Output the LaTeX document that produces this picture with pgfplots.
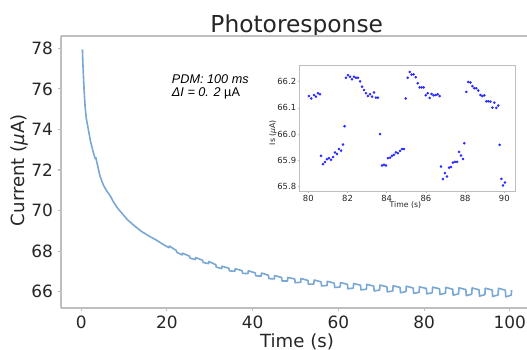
\documentclass[border=0pt]{standalone}
\usepackage{pgfplots}
\pgfplotsset{compat=1.18}
\usepackage{fontspec}
\setmainfont{DejaVu Sans}
\newfontfamily\arial{Liberation Sans}
\definecolor{lineblue}{RGB}{122,168,212}
\definecolor{spinegray}{RGB}{190,190,190}
\definecolor{ticktext}{RGB}{38,38,38}
\definecolor{dotblue}{RGB}{40,40,255}
\begin{document}
\begin{tikzpicture}
\path[use as bounding box] (0pt,0pt) rectangle (395.25pt,261.75pt);
\clip (0pt,0pt) rectangle (395.25pt,261.75pt);
\begin{scope}[x=0.75pt,y=0.75pt]
\node[anchor=base, text=ticktext, inner sep=0pt, font=\fontsize{17.5}{20}\selectfont] at (296.7,316) {Photoresponse};
\end{scope}
\begin{axis}[
 at={(45.75pt,30.75pt)}, anchor=south west, scale only axis, width=354pt, height=204pt,
 xmin=-4.7, xmax=105.4, ymin=65.196, ymax=78.607,
 axis y line*=left,
 xtick={0,20,...,100}, ytick={66,68,...,78},
 tick align=outside, xtick pos=bottom, ytick pos=left,
 major tick length=2.6pt,
 every tick/.style={spinegray, line width=0.8pt},
 axis line style={spinegray, line width=1.2pt},
 tick label style={font=\fontsize{12.7}{14}\selectfont, text=ticktext},
 /pgf/number format/assume math mode=true,
 xlabel={Time (s)}, ylabel={Current ({\itshape μ}A)},
 label style={font=\fontsize{13.6}{15}\selectfont, text=ticktext, inner sep=0pt},
 xlabel style={at={(axis description cs:0.5,-0.0919)}, anchor=north},
 ylabel style={at={(axis description cs:-0.0869,0.507)}, anchor=center},
]
\addplot[lineblue, line width=1.2pt, line join=round] coordinates {
(0.30,77.95)(0.40,77.30)(0.54,76.60)(0.70,75.90)(0.93,75.10)(1.20,74.55)(1.70,73.97)(2.20,73.40)(2.90,72.82)(3.30,72.55)(3.45,72.60)(3.70,72.35)(4.40,71.70)(5.20,71.25)(6.00,70.95)(6.40,70.85)(6.80,70.72)(7.50,70.44)(8.50,70.12)(9.50,69.87)(10.80,69.55)(12.20,69.29)(14.00,68.98)(16.10,68.71)(17.50,68.55)(19.20,68.32)(20.50,68.17)
(20.58,68.250)(22.20,68.032)(22.30,67.941)(23.57,67.810)
(23.65,67.897)(25.27,67.752)(25.37,67.655)(26.64,67.587)
(26.72,67.683)(28.34,67.547)(28.44,67.441)(29.71,67.383)
(29.79,67.489)(31.41,67.329)(31.51,67.212)(32.78,67.139)
(32.86,67.256)(34.48,67.152)(34.58,67.029)(35.85,67.006)
(35.93,67.132)(37.55,67.037)(37.65,66.904)(38.92,66.892)
(39.00,67.028)(40.62,66.926)(40.72,66.782)(41.99,66.768)
(42.07,66.921)(43.69,66.807)(43.79,66.644)(45.06,66.631)
(45.14,66.797)(46.76,66.698)(46.86,66.525)(48.13,66.527)
(48.21,66.703)(49.83,66.624)(49.93,66.442)(51.20,66.463)
(51.28,66.650)(52.90,66.556)(53.00,66.364)(54.27,66.380)
(54.35,66.576)(55.97,66.485)(56.07,66.283)(57.34,66.306)
(57.42,66.512)(59.04,66.419)(59.14,66.207)(60.41,66.232)
(60.49,66.449)(62.11,66.363)(62.21,66.142)(63.48,66.179)
(63.56,66.405)(65.18,66.317)(65.28,66.086)(66.55,66.125)
(66.63,66.361)(68.25,66.277)(68.35,66.036)(69.62,66.081)
(69.70,66.328)(71.32,66.241)(71.42,65.989)(72.69,66.037)
(72.77,66.294)(74.39,66.209)(74.49,65.949)(75.76,66.004)
(75.84,66.270)(77.46,66.183)(77.56,65.913)(78.83,65.970)
(78.91,66.240)(80.53,66.159)(80.63,65.888)(81.90,65.950)
(81.98,66.226)(83.60,66.143)(83.70,65.862)(84.97,65.926)
(85.05,66.213)(86.67,66.120)(86.77,65.830)(88.04,65.893)
(88.12,66.189)(89.74,66.105)(89.84,65.805)(91.11,65.879)
(91.19,66.185)(92.81,66.094)(92.91,65.783)(94.18,65.855)
(94.26,66.172)(95.88,66.082)(95.98,65.762)(97.25,65.842)
(97.33,66.168)(98.95,66.076)(99.05,65.746)(100.32,65.828)
(100.40,66.080)
};
\end{axis}
\begin{scope}[x=0.75pt,y=0.75pt]
\node[anchor=base west, inner sep=0pt, font=\arial\itshape\fontsize{9.5}{11}\selectfont] at (171.7,265.7) {PDM: 100 ms};
\node[anchor=base west, inner sep=0pt, font=\arial\itshape\fontsize{9.5}{11}\selectfont] at (171.7,252.3) {ΔI = 0. 2 {\upshape µA}};
\end{scope}
\begin{axis}[
 at={(224.475pt,117.975pt)}, anchor=south west, scale only axis, width=162.3pt, height=94.3pt,
 xmin=79.54, xmax=90.58, ymin=65.78, ymax=66.26,
 xtick={80,82,...,90}, ytick={65.8,65.9,66.0,66.1,66.2},
 yticklabel style={/pgf/number format/.cd, fixed, fixed zerofill, precision=1},
 tick align=outside, xtick pos=bottom, ytick pos=left,
 major tick length=1.2pt,
 every tick/.style={spinegray, line width=0.5pt},
 axis line style={spinegray, line width=0.8pt},
 axis background/.style={fill=white},
 tick label style={font=\fontsize{6.3}{7}\selectfont, text=ticktext, inner sep=1pt},
 /pgf/number format/assume math mode=true,
 xlabel={Time (s)}, ylabel={Is ({\itshape μ}A)},
 label style={font=\fontsize{5.8}{7}\selectfont, text=ticktext, inner sep=0pt},
 xlabel style={at={(axis description cs:0.49,-0.08)}, anchor=north},
 ylabel style={at={(axis description cs:-0.122,0.47)}, anchor=center},
]
\addplot[only marks, mark=*, mark size=0.75pt, dotblue] coordinates {
(80.03,66.145)(80.15,66.136)(80.29,66.149)(80.39,66.143)(80.49,66.156)(80.59,66.152)
(80.65,65.917)(80.75,65.885)(80.85,65.893)(80.95,65.904)(81.05,65.908)(81.16,65.902)(81.26,65.912)(81.36,65.930)(81.46,65.924)(81.56,65.943)(81.67,65.937)(81.77,65.960)(81.85,66.030)
(81.92,66.215)(82.02,66.225)(82.13,66.219)(82.23,66.209)(82.33,66.219)(82.43,66.215)(82.53,66.215)(82.64,66.201)(82.74,66.181)(82.84,66.168)(82.94,66.156)(83.04,66.145)(83.15,66.152)(83.25,66.143)(83.35,66.159)(83.45,66.139)(83.55,66.139)
(83.66,66.000)
(83.76,65.880)(83.86,65.883)(83.96,65.880)
(84.06,65.908)(84.17,65.910)(84.27,65.917)(84.37,65.921)(84.47,65.930)(84.57,65.927)(84.68,65.936)(84.78,65.943)(84.88,65.943)
(84.97,66.136)
(85.07,66.215)(85.17,66.237)(85.27,66.227)(85.37,66.228)(85.48,66.217)(85.58,66.194)(85.68,66.178)(85.78,66.178)(85.88,66.178)(85.99,66.148)(86.09,66.156)(86.19,66.138)(86.29,66.153)(86.39,66.148)(86.50,66.149)(86.60,66.152)(86.70,66.145)
(86.77,65.876)(86.87,65.828)(86.97,65.851)(87.07,65.838)(87.18,65.872)(87.28,65.874)(87.38,65.891)(87.48,65.894)(87.59,65.894)(87.69,65.932)(87.79,65.918)(87.89,65.905)(87.96,65.965)
(88.06,66.161)(88.16,66.199)(88.27,66.197)(88.37,66.183)(88.47,66.175)(88.57,66.175)(88.67,66.166)(88.78,66.149)(88.88,66.145)(88.98,66.148)(89.08,66.125)(89.18,66.125)(89.29,66.124)(89.39,66.101)(89.49,66.120)(89.59,66.100)(89.69,66.109)
(89.76,65.959)(89.85,65.829)(89.93,65.804)(90.03,65.815)
};
\end{axis}
\end{tikzpicture}
\end{document}
